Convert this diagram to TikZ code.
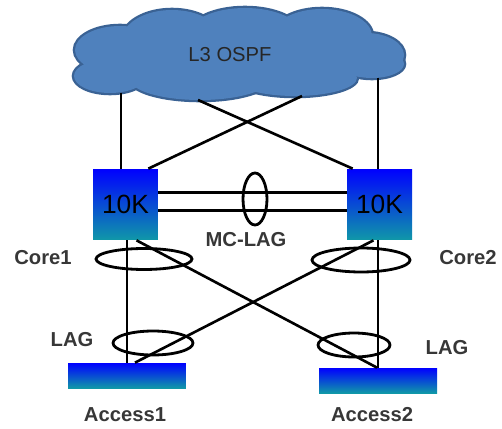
\documentclass[tikz,border=0pt]{standalone}
\usepackage{fontspec}
\setmainfont{Liberation Sans}
\usetikzlibrary{shapes, shapes.geometric, positioning, calc}

\definecolor{cloudblue}{RGB}{79,129,189}
\definecolor{cloudedge}{RGB}{58,98,148}
\definecolor{swtop}{RGB}{0,0,255}
\definecolor{swbot}{RGB}{16,152,168}
\definecolor{labelgray}{RGB}{55,55,55}

\tikzset{
  switch/.style={rectangle, top color=swtop, bottom color=swbot, minimum width=1.3cm, minimum height=1.42cm, inner sep=0pt, font=\fontsize{15}{17}\selectfont},
  accessbar/.style={rectangle, top color=swtop, bottom color=swbot, minimum width=2.36cm, minimum height=0.5cm, inner sep=0pt},
  lagring/.style={ellipse, draw, line width=1.6pt, inner sep=0pt},
  link/.style={line width=1.5pt},
  tag/.style={font=\bfseries\fontsize{11.5}{13}\selectfont, text=labelgray}
}

\begin{document}
\begin{tikzpicture}[x=0.02cm, y=-0.02cm]
\useasboundingbox (0,0) rectangle (502,428);
% cloud, outline first, then fill over it
\foreach \cx/\cy/\rx/\ry in {120/50/45/24, 110/76/36/17, 172/40/50/30, 245/34/56/26, 322/36/50/27,
  366/55/38/22, 372/64/32/14, 200/79/70/21, 295/78/62/18, 240/60/125/32}
  \draw[cloudedge, line width=2.6pt] (\cx,\cy) ellipse [x radius={\rx*0.02cm}, y radius={\ry*0.02cm}];
\foreach \cx/\cy/\rx/\ry in {120/50/45/24, 110/76/36/17, 172/40/50/30, 245/34/56/26, 322/36/50/27,
  366/55/38/22, 372/64/32/14, 200/79/70/21, 295/78/62/18, 240/60/125/32}
  \fill[cloudblue] (\cx,\cy) ellipse [x radius={\rx*0.02cm}, y radius={\ry*0.02cm}];
\node[font=\fontsize{11.5}{13}\selectfont, text=black!85] (ospf) at (230,55) {L3 OSPF};
% switches
\node[switch] (sw1) at (125.5,204.5) {10K};
\node[switch] (sw2) at (379.5,204.5) {10K};
\node[accessbar] (acc1) at (127,375.5) {};
\node[accessbar] (acc2) at (378,380.5) {};
% uplinks
\coordinate (o1) at (121,93);
\coordinate (o2) at (378,78);
\coordinate (o3) at (198,100);
\coordinate (o4) at (302,96);
\draw[link] (o1) -- (o1 |- sw1.north);
\draw[link] (o2) -- (o2 |- sw2.north);
\draw[link] (o3) -- ($(sw2.north west)+(6,0)$);
\draw[link] (o4) -- ($(sw1.north east)+(-10,0)$);
% mc-lag
\draw[link] ($(sw1.east)+(0,-12)$) -- ($(sw2.west)+(0,-12)$);
\draw[link] ($(sw1.east)+(0,6)$) -- ($(sw2.west)+(0,6)$);
% downlinks
\draw[link] (sw1.south -| acc1.north) -- (acc1.north);
\draw[link] (sw2.south -| acc2.north) -- (acc2.north);
\draw[link] ($(sw1.south)+(11,0)$) -- ($(acc2.north)+(-1,0)$);
\draw[link] ($(sw2.south)+(-6,0)$) -- ($(acc1.north)+(8,0)$);
% rings
\node[lagring, minimum width=0.48cm, minimum height=1.04cm] (mclag) at (255,199) {};
\node[lagring, minimum width=1.92cm, minimum height=0.42cm] (ring1) at (144,259) {};
\node[lagring, minimum width=1.96cm, minimum height=0.48cm] (ring2) at (361,260) {};
\node[lagring, minimum width=1.6cm, minimum height=0.48cm] (lag1) at (153,343) {};
\node[lagring, minimum width=1.44cm, minimum height=0.48cm] (lag2) at (354,345) {};
% labels
\node[tag] (mclab) at (246,240) {MC-LAG};
\node[tag] (core1) at (43,258) {Core1};
\node[tag] (core2) at (468,258) {Core2};
\node[tag] (laglab1) at (72,340) {LAG};
\node[tag] (laglab2) at (447,348) {LAG};
\node[tag] (acclab1) at (125,415) {Access1};
\node[tag] (acclab2) at (372,415) {Access2};
\end{tikzpicture}
\end{document}
